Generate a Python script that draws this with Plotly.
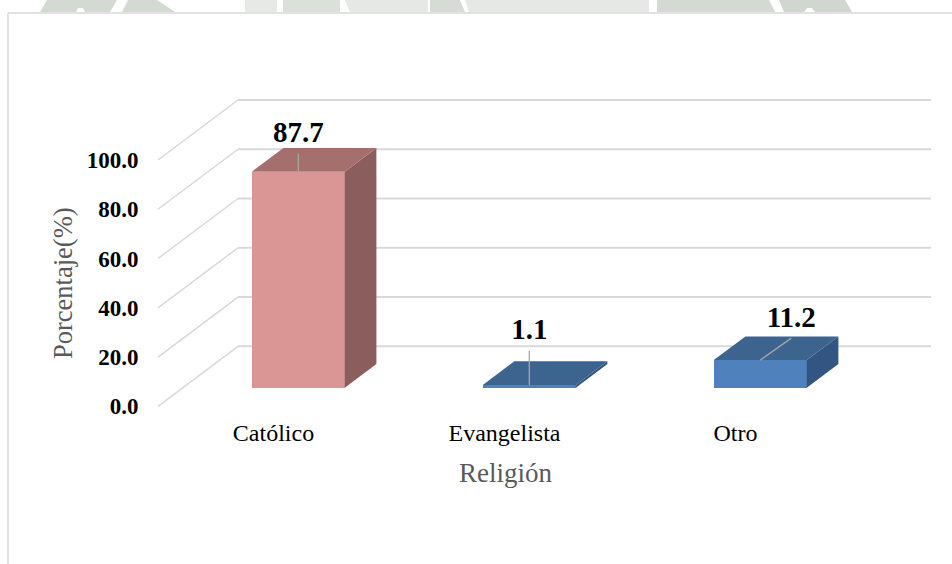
import plotly.graph_objects as go

categories = ["Católico", "Evangelista", "Otro"]
values = [87.7, 1.1, 11.2]
y_ticks = [0, 20, 40, 60, 80, 100]

FRONT = ["#D99694", "#4F81BD", "#4F81BD"]
TOP = ["#A56F6D", "#3D638F", "#3D638F"]
SIDE = ["#8B5E5D", "#335581", "#335581"]
GRID = "#D9D9D9"
FONT = "Liberation Serif"
W, H = 952, 564

# pixel geometry of the pseudo-3D box
X0, Y0 = 158.0, 406.3        # front-plane origin
CAT_PX, VAL_PX = 231.0, 2.463  # pixels per category / per value unit
DEPTH_X, DEPTH_Y = 80.0, 60.0  # full floor depth in pixels
BAR_PX = 93.0
BAR_NEAR, BAR_FAR = 0.31, 0.705  # bar depth span, fraction of floor depth


def ux(px):
    return px / CAT_PX


def uy(px):
    return px / VAL_PX


def px_x(p):
    return p / W


def px_y(p):
    return 1 - p / H


bar_w = ux(BAR_PX)
near_x, near_y = ux(DEPTH_X * BAR_NEAR), uy(DEPTH_Y * BAR_NEAR)
span_x, span_y = ux(DEPTH_X * (BAR_FAR - BAR_NEAR)), uy(DEPTH_Y * (BAR_FAR - BAR_NEAR))
back_x, back_y = ux(DEPTH_X), uy(DEPTH_Y)
right_back = ux(931 - X0)

centres = [i + 0.5 + near_x for i in range(len(values))]

fig = go.Figure()

# front faces
fig.add_trace(go.Bar(
    x=centres, y=values, base=[near_y] * len(values), width=bar_w,
    marker=dict(color=FRONT, line=dict(width=0)), showlegend=False, hoverinfo="skip",
))

# side and top faces, derived from the values
for i, v in enumerate(values):
    xl, xr = centres[i] - bar_w / 2, centres[i] + bar_w / 2
    yb, yt = near_y, near_y + v
    fig.add_trace(go.Scatter(
        x=[xr, xr + span_x, xr + span_x, xr, xr],
        y=[yb, yb + span_y, yt + span_y, yt, yb],
        mode="lines", fill="toself", fillcolor=SIDE[i], line=dict(width=0),
        showlegend=False, hoverinfo="skip",
    ))
    fig.add_trace(go.Scatter(
        x=[xl, xr, xr + span_x, xl + span_x, xl],
        y=[yt, yt, yt + span_y, yt + span_y, yt],
        mode="lines", fill="toself", fillcolor=TOP[i], line=dict(width=0),
        showlegend=False, hoverinfo="skip",
    ))

# leader lines and value labels (pixel offsets from the front-top centre of each bar)
leader_px = [(0, 18), (0, 34), (31, 22)]
label_px = [(0, 36.5), (0, 53), (31, 40)]
for i, v in enumerate(values):
    cx, cy = centres[i], near_y + v
    fig.add_trace(go.Scatter(
        x=[cx, cx + ux(leader_px[i][0])], y=[cy, cy + uy(leader_px[i][1])],
        mode="lines", line=dict(color="#A6A6A6", width=1.3),
        showlegend=False, hoverinfo="skip",
    ))
fig.add_trace(go.Scatter(
    x=[centres[i] + ux(label_px[i][0]) for i in range(len(values))],
    y=[near_y + values[i] + uy(label_px[i][1]) for i in range(len(values))],
    text=[f"{v:.1f}" for v in values], mode="text", textposition="middle center",
    textfont=dict(family=FONT, size=29, color="#000000", weight=700),
    showlegend=False, hoverinfo="skip", cliponaxis=False,
))

shapes = []
# pseudo-3D gridlines, below the bars
for t in y_ticks:
    shapes.append(dict(type="line", xref="x", yref="y", layer="below",
                       x0=0, y0=t, x1=back_x, y1=t + back_y,
                       line=dict(color=GRID, width=1.5)))
    shapes.append(dict(type="line", xref="x", yref="y", layer="below",
                       x0=back_x, y0=t + back_y, x1=right_back, y1=t + back_y,
                       line=dict(color=GRID, width=2)))

# chart frame (left and top only are visible)
shapes.append(dict(type="line", xref="paper", yref="paper", layer="below",
                   x0=px_x(8), y0=px_y(13), x1=px_x(8), y1=0, line=dict(color=GRID, width=1.5)))
shapes.append(dict(type="line", xref="paper", yref="paper", layer="below",
                   x0=px_x(8), y0=px_y(13), x1=1, y1=px_y(13), line=dict(color=GRID, width=1.5)))

# faint remnant of the page watermark above the frame
watermark = [
    ([(40, 12), (47, 0), (117, 0), (110, 12), (85, 12), (83, 8), (78, 8), (76, 12)], "#D3DAD2"),
    ([(122, 12), (128, 0), (157, 0), (175, 12)], "#D3DAD2"),
    ([(245, 0), (277, 0), (277, 12), (245, 12)], "#E6E9E5"),
    ([(283, 0), (340, 0), (340, 12), (283, 12)], "#DCE0DB"),
    ([(345, 0), (428, 0), (428, 12), (350, 12)], "#E5E8E4"),
    ([(430, 0), (460, 0), (465, 12), (430, 12)], "#D6DBD6"),
    ([(465, 0), (649, 0), (649, 12), (469, 12)], "#E5E8E4"),
    ([(657, 0), (769, 0), (775, 12), (657, 12)], "#D4D9D3"),
    ([(779, 0), (845, 0), (852, 12), (815, 12), (812, 8), (807, 8), (804, 12), (784, 12)], "#D0D7CE"),
]
for pts, colour in watermark:
    path = "M " + " L ".join(f"{px_x(a):.5f},{px_y(b):.5f}" for a, b in pts) + " Z"
    shapes.append(dict(type="path", xref="paper", yref="paper", layer="below",
                       path=path, fillcolor=colour, line=dict(width=0)))

annotations = [
    dict(text="Religión", xref="paper", yref="paper", x=px_x(505.5), y=px_y(473),
         showarrow=False, xanchor="center", yanchor="middle",
         font=dict(family=FONT, size=27, color="#595959")),
    dict(text="Porcentaje(%)", xref="paper", yref="paper", x=px_x(63), y=px_y(283),
         showarrow=False, xanchor="center", yanchor="middle", textangle=-90,
         font=dict(family=FONT, size=26.5, color="#595959")),
]

fig.update_layout(
    width=W, height=H, autosize=False,
    margin=dict(l=0, r=0, t=0, b=0, pad=0),
    paper_bgcolor="white", plot_bgcolor="rgba(0,0,0,0)",
    showlegend=False, bargap=0, shapes=shapes, annotations=annotations,
    xaxis=dict(
        range=[ux(-X0), ux(W - X0)], anchor="free", position=1 - Y0 / H,
        tickmode="array", tickvals=[i + 0.5 for i in range(len(categories))], ticktext=categories,
        tickfont=dict(family=FONT, size=24, color="#000000"),
        ticks="outside", ticklen=5, tickcolor="rgba(0,0,0,0)",
        showgrid=False, zeroline=False, showline=False, fixedrange=True,
    ),
    yaxis=dict(
        range=[uy(Y0 - H), uy(Y0)], anchor="free", position=X0 / W,
        tickmode="array", tickvals=y_ticks, tickformat=".1f",
        tickfont=dict(family=FONT, size=23, color="#000000", weight=700),
        ticks="outside", ticklen=15, tickcolor="rgba(0,0,0,0)",
        showgrid=False, zeroline=False, showline=False, fixedrange=True,
    ),
)

fig.write_html("out.html", config=dict(displayModeBar=False),
               post_script="document.documentElement.style.overflow='hidden';document.body.style.margin='0';")
